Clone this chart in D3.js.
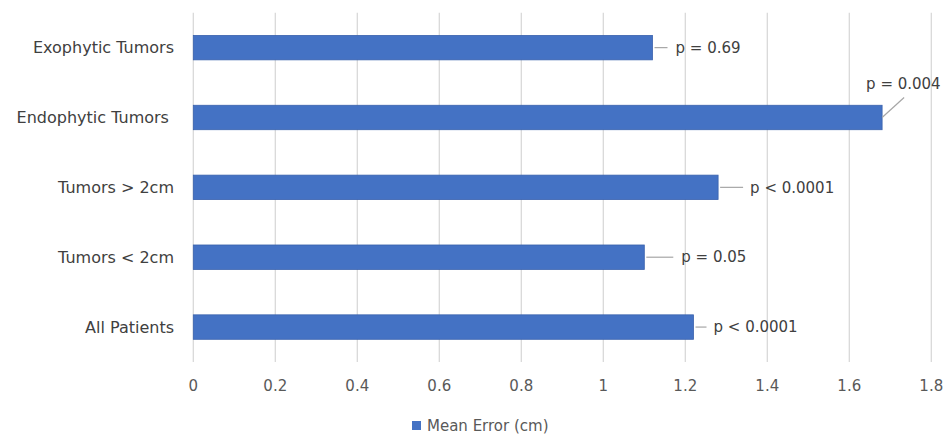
<!DOCTYPE html>
<html><head><meta charset="utf-8">
<script src="https://cdn.jsdelivr.net/npm/d3@7"></script>
<style>
html,body{margin:0;padding:0;background:#fff;}
svg{display:block;font-family:"DejaVu Sans",sans-serif;}
</style></head>
<body><svg id="chart" width="945" height="434"></svg>
<script>
const categories = ["Exophytic Tumors","Endophytic Tumors ","Tumors > 2cm","Tumors < 2cm","All Patients"];
const meanError = [1.12, 1.68, 1.28, 1.10, 1.22];
const pLabels = ["p = 0.69","p = 0.004","p < 0.0001","p = 0.05","p < 0.0001"];
const xTicks = [0,0.2,0.4,0.6,0.8,1,1.2,1.4,1.6,1.8];
const seriesName = "Mean Error (cm)";
// label layout: placement only
const labelLayout = [
  {type:"side", line:[2,15], text:23},
  {type:"above", line:[[0,0],[22,-20]], text:[-16,-34]},
  {type:"side", line:[2,25], text:32},
  {type:"side", line:[2,29], text:37},
  {type:"side", line:[2,13], text:20}
];

const svg = d3.select("#chart");
const mLeft = 193.3, mRight = 931.3, mTop = 12.7, mBottom = 362;
const x = d3.scaleLinear().domain([0,1.8]).range([mLeft,mRight]);
const y = d3.scaleBand().domain(categories).range([mTop,mBottom]).paddingInner(0.65).paddingOuter(0.325);

// gridlines
svg.append("g").selectAll("line").data(xTicks).join("line")
  .attr("x1",d=>x(d)).attr("x2",d=>x(d)).attr("y1",mTop).attr("y2",mBottom)
  .attr("stroke","#d9d9d9").attr("stroke-width",1.3);

// x tick labels
svg.append("g").selectAll("text").data(xTicks).join("text")
  .attr("x",d=>x(d)).attr("y",386).attr("dy","0.35em")
  .attr("text-anchor","middle").attr("font-size",15).attr("fill","#595959")
  .text(d=>d3.format("")(d));

// category labels
svg.append("g").selectAll("text").data(categories).join("text")
  .attr("x",174).attr("y",d=>y(d)+y.bandwidth()/2).attr("dy","0.35em")
  .attr("text-anchor","end").attr("font-size",16).attr("fill","#404040")
  .style("white-space","pre")
  .text(d=>d);

// bars
svg.append("g").selectAll("rect").data(meanError).join("rect")
  .attr("x",x(0)).attr("y",(d,i)=>y(categories[i]))
  .attr("width",d=>x(d)-x(0)).attr("height",y.bandwidth())
  .attr("fill","#4472c4").attr("stroke","#3a62ad").attr("stroke-width",0.8);

// data labels with leader lines
const lg = svg.append("g");
meanError.forEach((v,i)=>{
  const bx = x(v), by = y(categories[i]) + y.bandwidth()/2;
  const L = labelLayout[i];
  if (L.type === "side") {
    lg.append("line").attr("x1",bx+L.line[0]).attr("x2",bx+L.line[1]).attr("y1",by).attr("y2",by)
      .attr("stroke","#a6a6a6").attr("stroke-width",1.2);
    lg.append("text").attr("x",bx+L.text).attr("y",by).attr("dy","0.35em")
      .attr("font-size",15).attr("fill","#404040").text(pLabels[i]);
  } else {
    lg.append("line").attr("x1",bx).attr("y1",by).attr("x2",bx+L.line[1][0]).attr("y2",by+L.line[1][1])
      .attr("stroke","#a6a6a6").attr("stroke-width",1.2);
    lg.append("text").attr("x",bx+L.text[0]).attr("y",by+L.text[1]).attr("dy","0.35em")
      .attr("font-size",15).attr("fill","#404040").text(pLabels[i]);
  }
});

// legend
const leg = svg.append("g");
leg.append("rect").attr("x",412).attr("y",421).attr("width",9).attr("height",9).attr("fill","#4472c4");
leg.append("text").attr("x",427).attr("y",425.5).attr("dy","0.35em")
  .attr("font-size",15).attr("fill","#595959").text(seriesName);
</script></body></html>
